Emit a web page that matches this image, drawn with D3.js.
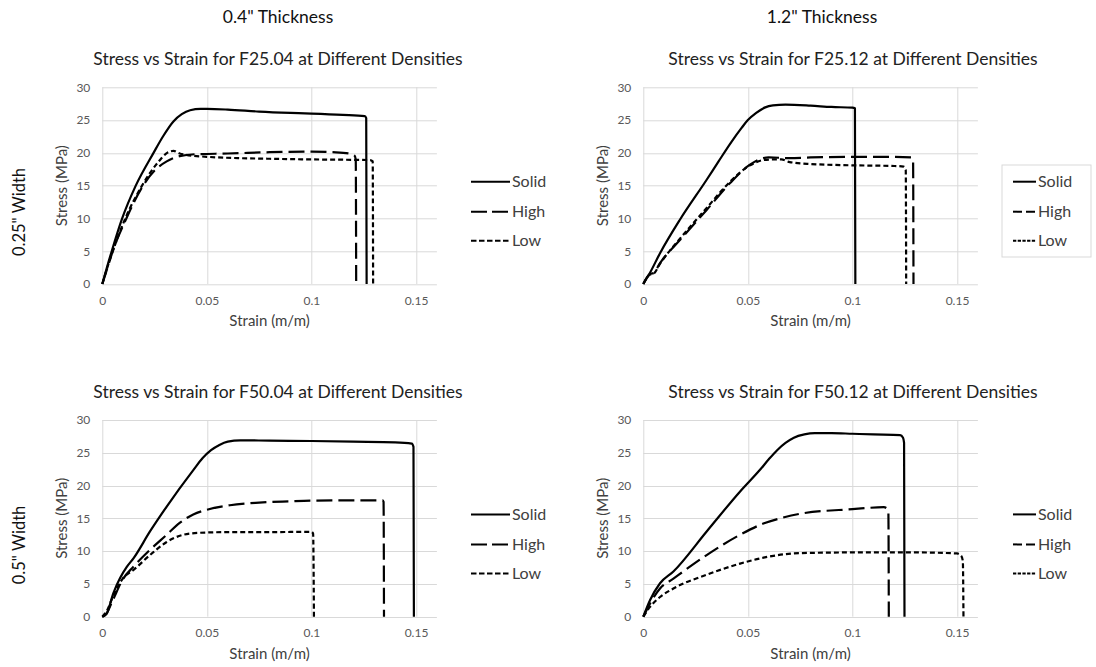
<!DOCTYPE html>
<html>
<head>
<meta charset="utf-8">
<script src="https://cdn.jsdelivr.net/npm/d3@7"></script>
<style>
  body { margin: 0; background: #fff; }
  svg { display: block; }
  text { font-family: Lato, "Open Sans", sans-serif; }
</style>
</head>
<body>
<svg id="chart" width="1096" height="667"></svg>
<script>
// Axis ticks and labels
const strainTicks = [0, 0.05, 0.1, 0.15];
const stressTicks = [0, 5, 10, 15, 20, 25, 30];
const densityLabels = ["Solid", "High", "Low"];
const columnHeaders = ['0.4" Thickness', '1.2" Thickness'];
const rowHeaders = ['0.25" Width', '0.5" Width'];
const chartTitles = [
  "Stress vs Strain for F25.04 at Different Densities",
  "Stress vs Strain for F25.12 at Different Densities",
  "Stress vs Strain for F50.04 at Different Densities",
  "Stress vs Strain for F50.12 at Different Densities"
];

// Stress-strain curves: [strain (m/m), stress (MPa)]
const f2504Solid = [[0,0],[0.002,2.3],[0.0045,5],[0.0095,10],[0.016,15],[0.0245,20],[0.029,22.5],[0.034,24.8],[0.038,25.9],[0.042,26.5],[0.047,26.7],[0.05,26.7],[0.06,26.6],[0.075,26.3],[0.09,26.1],[0.1,26.0],[0.115,25.8],[0.1255,25.6],[0.1262,25.3],[0.1264,0]];
const f2504High  = [[0,0],[0.002,2.0],[0.005,5],[0.0115,10],[0.0195,15],[0.025,17.3],[0.0308,18.7],[0.037,19.5],[0.045,19.8],[0.06,19.9],[0.08,20.1],[0.1,20.2],[0.11,20.1],[0.118,19.9],[0.1205,19.6],[0.1212,19.0],[0.1214,0]];
const f2504Low   = [[0,0],[0.002,2.1],[0.005,5],[0.011,10],[0.019,15],[0.027,18.7],[0.031,20.0],[0.034,20.3],[0.037,19.9],[0.04,19.7],[0.05,19.4],[0.065,19.2],[0.08,19.1],[0.1,19.0],[0.128,18.9],[0.1293,18.7],[0.1295,0]];

const f2512Solid = [[0,0],[0.003,1.6],[0.008,4.7],[0.0175,9.8],[0.0303,15.9],[0.036,18.7],[0.042,21.6],[0.047,23.8],[0.05,25.0],[0.054,26.1],[0.058,26.9],[0.062,27.25],[0.068,27.35],[0.08,27.2],[0.09,27.0],[0.1,26.9],[0.1012,26.8],[0.1014,0]];
const f2512High  = [[0,0],[0.003,1.5],[0.005,1.7],[0.008,3.2],[0.0175,6.7],[0.0303,11.3],[0.0415,15.4],[0.051,18.2],[0.0574,19.2],[0.06,19.3],[0.07,19.2],[0.08,19.3],[0.1,19.4],[0.12,19.4],[0.128,19.3],[0.129,19.0],[0.1292,0]];
const f2512Low   = [[0,0],[0.003,1.4],[0.005,1.6],[0.008,3.1],[0.0175,6.9],[0.0303,11.6],[0.0415,15.6],[0.051,18.1],[0.0574,18.9],[0.062,19.0],[0.066,19.0],[0.07,18.6],[0.08,18.3],[0.1,18.1],[0.12,18.0],[0.1245,17.9],[0.1255,17.4],[0.1257,0]];

const f5004Solid = [[0,0],[0.002,0.4],[0.0053,3.6],[0.0085,5.9],[0.0117,7.6],[0.0149,8.9],[0.0228,13.0],[0.0308,16.8],[0.0436,22.4],[0.048,24.2],[0.052,25.4],[0.056,26.2],[0.06,26.7],[0.066,26.9],[0.08,26.85],[0.1,26.8],[0.12,26.7],[0.14,26.6],[0.148,26.4],[0.1488,25.9],[0.149,0]];
const f5004High  = [[0,0],[0.002,0.5],[0.005,2.5],[0.01,5.8],[0.0148,7.6],[0.0228,10.2],[0.0308,12.5],[0.037,14.3],[0.0435,15.6],[0.05,16.3],[0.061,17.0],[0.075,17.4],[0.09,17.6],[0.1,17.7],[0.12,17.75],[0.134,17.75],[0.1345,17.5],[0.1347,0]];
const f5004Low   = [[0,0],[0.002,0.8],[0.005,3.0],[0.01,5.9],[0.0148,7.1],[0.0228,9.4],[0.0308,11.4],[0.0388,12.5],[0.0467,12.8],[0.06,12.9],[0.08,12.9],[0.1,12.95],[0.1008,12.7],[0.1012,0]];

const f5012Solid = [[0,0],[0.0032,2.5],[0.008,5.1],[0.0144,6.9],[0.0303,13.0],[0.0463,19.1],[0.0558,22.4],[0.06,24.0],[0.064,25.4],[0.068,26.5],[0.072,27.3],[0.077,27.8],[0.082,28.0],[0.09,28.0],[0.1,27.9],[0.11,27.8],[0.1228,27.7],[0.1242,27.3],[0.1247,26.5],[0.1249,0]];
const f5012High  = [[0,0],[0.0032,2.0],[0.008,4.3],[0.0144,5.8],[0.0303,9.4],[0.0463,12.5],[0.0574,14.2],[0.0654,15.0],[0.075,15.7],[0.1,16.4],[0.115,16.7],[0.1165,16.5],[0.1172,15.8],[0.1174,0]];
const f5012Low   = [[0,0],[0.0032,1.5],[0.008,3.0],[0.0144,4.3],[0.0303,6.4],[0.0463,8.1],[0.0606,9.2],[0.075,9.7],[0.1,9.8],[0.13,9.8],[0.15,9.65],[0.152,9.3],[0.1528,8.5],[0.1531,0]];

const svg = d3.select("#chart");
svg.append("rect").attr("width", 1096).attr("height", 667).attr("fill", "#fff");

const plotW = 334.6, plotH = 196.7;
const gridColor = "#d9d9d9";
const tickColor = "#595959";
const lineDash = [null, "16,6", "5,3"];

const panels = [
  { title: chartTitles[0], series: [f2504Solid, f2504High, f2504Low], x0: 102.3, y0: 87.3, titleX: 278, legend: "long" },
  { title: chartTitles[1], series: [f2512Solid, f2512High, f2512Low], x0: 643.3, y0: 87.3, titleX: 853, legend: "boxed" },
  { title: chartTitles[2], series: [f5004Solid, f5004High, f5004Low], x0: 102.3, y0: 420, titleX: 278, legend: "long" },
  { title: chartTitles[3], series: [f5012Solid, f5012High, f5012Low], x0: 643.3, y0: 420, titleX: 853, legend: "short" }
];

// Column and row headers
svg.selectAll("text.col").data(columnHeaders).join("text")
  .attr("class", "col")
  .attr("x", (d, i) => [278, 822][i]).attr("y", 23)
  .attr("text-anchor", "middle").attr("font-size", 17.5).attr("fill", "#111")
  .text(d => d);

svg.selectAll("text.row").data(rowHeaders).join("text")
  .attr("class", "row")
  .attr("transform", (d, i) => `translate(25,${[212, 545][i]}) rotate(-90)`)
  .attr("text-anchor", "middle").attr("font-size", 16.5).attr("fill", "#111")
  .text(d => d);

panels.forEach(p => {
  const x = d3.scaleLinear().domain([0, 0.16]).range([0, plotW]);
  const y = d3.scaleLinear().domain([0, 30]).range([plotH, 0]);
  const g = svg.append("g").attr("transform", `translate(${p.x0},${p.y0})`);

  // gridlines
  g.append("g").selectAll("line").data(stressTicks).join("line")
    .attr("x1", 0).attr("x2", plotW)
    .attr("y1", d => Math.round(y(d)) + 0.5).attr("y2", d => Math.round(y(d)) + 0.5)
    .attr("stroke", gridColor).attr("stroke-width", 1);
  g.append("g").selectAll("line").data(strainTicks).join("line")
    .attr("x1", d => Math.round(x(d)) + 0.5).attr("x2", d => Math.round(x(d)) + 0.5)
    .attr("y1", 0).attr("y2", plotH)
    .attr("stroke", gridColor).attr("stroke-width", 1);

  // axes (labels only)
  const xa = g.append("g").attr("transform", `translate(0,${plotH})`)
    .call(d3.axisBottom(x).tickValues(strainTicks).tickFormat(d => String(d)).tickSize(0).tickPadding(12));
  const ya = g.append("g")
    .call(d3.axisLeft(y).tickValues(stressTicks).tickFormat(d => String(d)).tickSize(0).tickPadding(12));
  [xa, ya].forEach(a => {
    a.select(".domain").remove();
    a.selectAll("text").attr("font-family", "Lato, 'Open Sans', sans-serif")
      .attr("font-size", 12).attr("fill", tickColor);
  });

  // axis titles
  g.append("text").attr("x", plotW / 2).attr("y", plotH + 42)
    .attr("text-anchor", "middle").attr("font-size", 15).attr("fill", "#404040")
    .text("Strain (m/m)");
  g.append("text").attr("transform", `translate(-35,${plotH / 2}) rotate(-90)`)
    .attr("text-anchor", "middle").attr("font-size", 15).attr("fill", "#404040")
    .text("Stress (MPa)");

  // chart title
  svg.append("text").attr("x", p.titleX).attr("y", p.y0 - 22)
    .attr("text-anchor", "middle").attr("font-size", 17.5).attr("fill", "#222")
    .text(p.title);

  // curves
  const line = d3.line().curve(d3.curveMonotoneX).x(d => x(d[0])).y(d => y(d[1]));
  g.selectAll("path.curve").data(p.series).join("path")
    .attr("class", "curve")
    .attr("d", line)
    .attr("fill", "none").attr("stroke", "#000").attr("stroke-width", 2.2)
    .attr("stroke-linejoin", "round")
    .attr("stroke-dasharray", (d, i) => lineDash[i]);

  // legend
  const shortKey = p.legend !== "long";
  const lx0 = shortKey ? 369.7 : 368.7;
  const lx1 = shortKey ? 392.7 : 407.7;
  const keyDash = shortKey ? [null, "9,4", "3.3,1.4"] : [null, "16,5", "5.5,2.5"];
  const rowsY = [94.4, 124.4, 153.4];
  if (p.legend === "boxed") {
    g.append("rect").attr("x", 358.7).attr("y", 77.7).attr("width", 89).attr("height", 92)
      .attr("fill", "#fff").attr("stroke", gridColor).attr("stroke-width", 1);
  }
  const lg = g.append("g");
  densityLabels.forEach((name, i) => {
    lg.append("line").attr("x1", lx0).attr("x2", lx1)
      .attr("y1", rowsY[i]).attr("y2", rowsY[i])
      .attr("stroke", "#000").attr("stroke-width", 2)
      .attr("stroke-dasharray", keyDash[i]);
    lg.append("text").attr("x", lx1 + 2).attr("y", rowsY[i]).attr("dy", "0.35em")
      .attr("font-size", 16).attr("fill", "#404040").text(name);
  });
});
</script>
</body>
</html>
